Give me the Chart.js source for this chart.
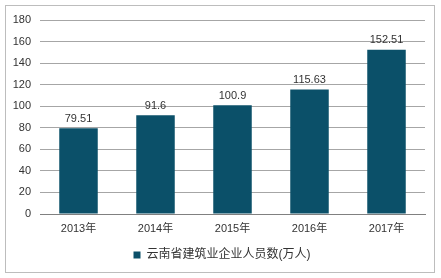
<!DOCTYPE html>
<html>
<head>
<meta charset="utf-8">
<script src="https://cdn.jsdelivr.net/npm/chart.js@4/dist/chart.umd.min.js"></script>
<style>
  html, body { margin: 0; padding: 0; background: #fff; }
</style>
</head>
<body>
<canvas id="chart" width="441" height="278"></canvas>
<script>
// data
const years = ['2013年', '2014年', '2015年', '2016年', '2017年'];
const workers = [79.51, 91.6, 100.9, 115.63, 152.51];
const seriesName = '云南省建筑业企业人员数(万人)';
const yMax = 180;
const yStep = 20;

const fontFamily = "'Liberation Sans', 'Noto Sans CJK SC', sans-serif";
const barColor = '#0b5069';

// grey frame round the whole picture
const framePlugin = {
  id: 'frame',
  beforeDraw(chart) {
    const ctx = chart.ctx;
    ctx.save();
    ctx.fillStyle = '#fff';
    ctx.fillRect(0, 0, chart.width, chart.height);
    ctx.strokeStyle = '#bdbdbd';
    ctx.lineWidth = 1;
    ctx.strokeRect(5.5, 5.5, 429, 267);
    ctx.restore();
  },
  // legend in the picture sits a little right of the middle
  afterLayout(chart) {
    chart.legend.left += 14;
  }
};

// value written above each bar
const valueLabels = {
  id: 'valueLabels',
  afterDatasetsDraw(chart) {
    const ctx = chart.ctx;
    ctx.save();
    ctx.font = '11px ' + fontFamily;
    ctx.fillStyle = '#333';
    ctx.textAlign = 'center';
    ctx.textBaseline = 'bottom';
    chart.getDatasetMeta(0).data.forEach((bar, i) => {
      ctx.fillText(String(workers[i]), bar.x, bar.y - 4);
    });
    ctx.restore();
  }
};

new Chart(document.getElementById('chart').getContext('2d'), {
  type: 'bar',
  data: {
    labels: years,
    datasets: [{
      label: seriesName,
      data: workers,
      backgroundColor: barColor,
      borderWidth: 0,
      barPercentage: 0.5,
      categoryPercentage: 1
    }]
  },
  options: {
    responsive: false,
    animation: false,
    layout: { padding: { left: 5, right: 16, top: 20, bottom: 7 } },
    plugins: {
      legend: {
        position: 'bottom',
        labels: {
          boxWidth: 7,
          boxHeight: 7,
          padding: 10,
          color: '#333',
          font: { family: fontFamily, size: 12 }
        }
      },
      tooltip: { enabled: false }
    },
    scales: {
      x: {
        grid: { display: false, drawTicks: false },
        border: { display: true, color: '#808080', width: 1 },
        ticks: { color: '#333', padding: 8, font: { family: fontFamily, size: 11 } },
        afterFit(scale) { scale.height = 25; }
      },
      y: {
        min: 0,
        max: yMax,
        grid: { color: '#a6a6a6', drawTicks: false },
        border: { display: false },
        ticks: { stepSize: yStep, color: '#333', padding: 9, font: { family: fontFamily, size: 11 } },
        afterFit(scale) { scale.width = 35; }
      }
    }
  },
  plugins: [framePlugin, valueLabels]
});
</script>
</body>
</html>
